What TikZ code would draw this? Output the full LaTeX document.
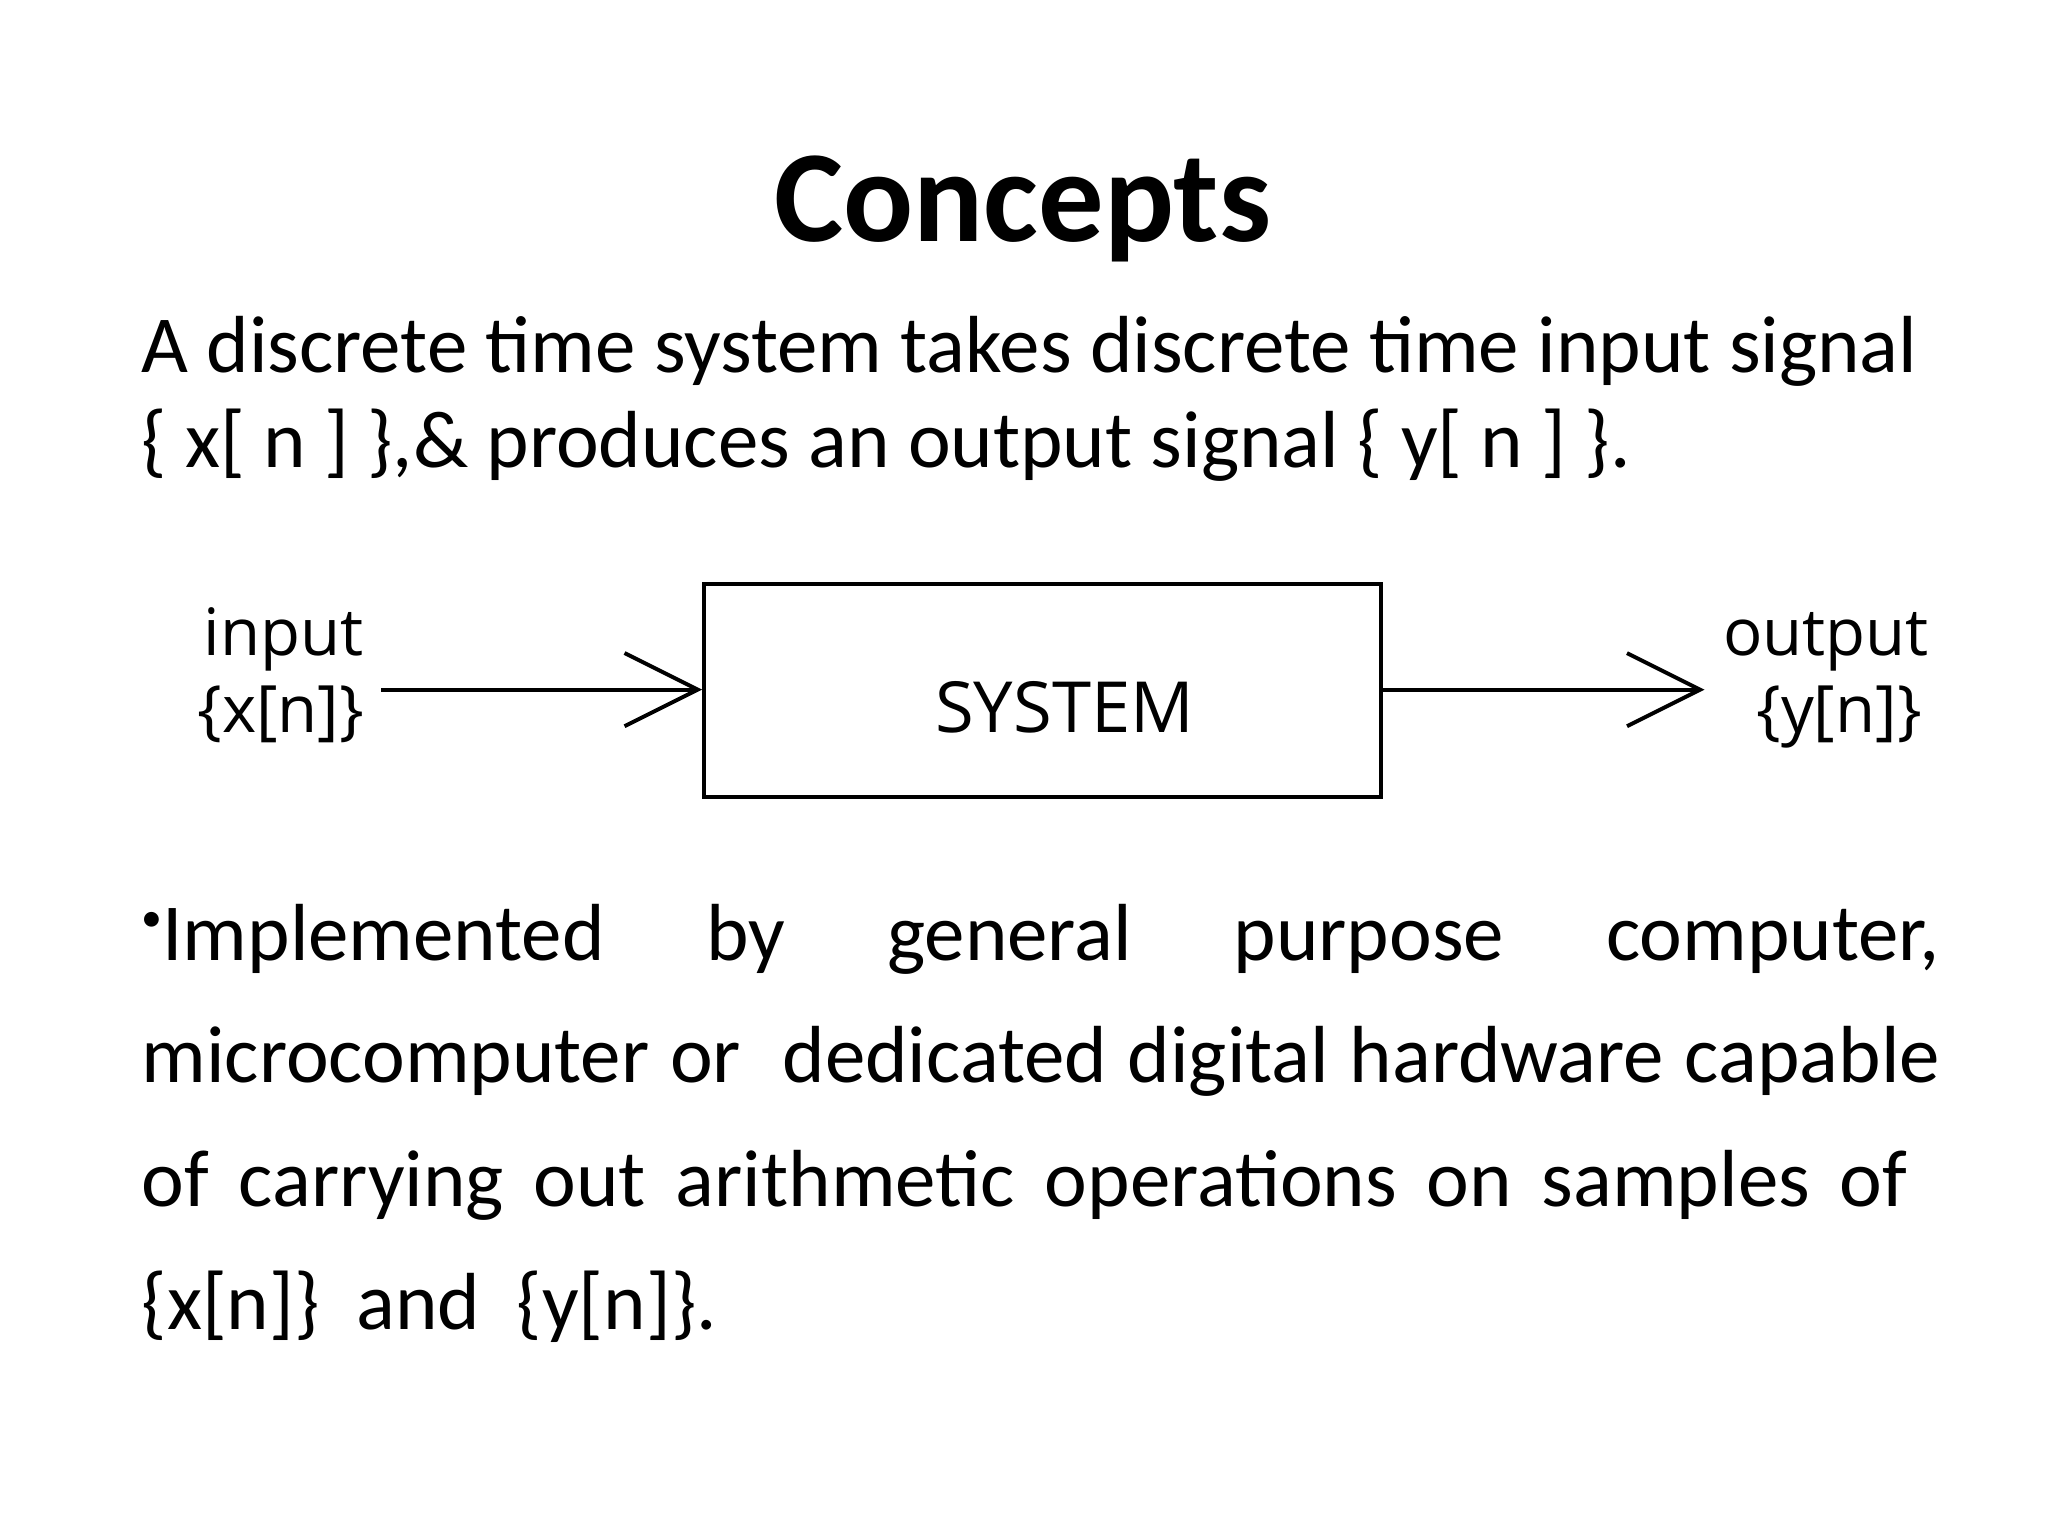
\documentclass[tikz,border=0pt]{standalone}
\usepackage{fontspec}
\setmainfont{Carlito}
\newfontfamily\diagfont{Open Sans}
\usetikzlibrary{arrows.meta}
\begin{document}
\begin{tikzpicture}[x=0.5pt,y=-0.5pt,
  txt/.style={anchor=base west,inner sep=0,font=\fontsize{31}{37}\selectfont},
  lbl/.style={inner sep=0,font=\diagfont\fontsize{25}{30}\selectfont},
  conn/.style={line width=1.5pt,-{Straight Barb[length=28pt,width=28pt,line width=1.5pt]}}]
\useasboundingbox (0,0) rectangle (1568,1176);
\node[inner sep=0,anchor=base,font=\bfseries\fontsize{50}{60}\selectfont] (title) at (783,185) {Concepts};
\node[txt] (p1) at (108,285) {A discrete time system takes discrete time input signal};
\node[txt] (p2) at (108,358) {\{ x[ n ] \},\& produces an output signal \{ y[ n ] \}.};
\node[draw,line width=1.5pt,minimum width=259pt,minimum height=81.5pt,inner sep=0] (sys) at (798,528.5) {};
\node[inner sep=0,anchor=base,font=\diagfont\fontsize{27}{32}\selectfont] (st) at (815,561) {SYSTEM};
\node[lbl,anchor=base] (in1) at (217,502) {input};
\node[lbl,anchor=base] (in2) at (215,561) {\{x[n]\}};
\node[lbl,anchor=base] (out1) at (1398,502) {output};
\node[lbl,anchor=base] (out2) at (1408,561) {\{y[n]\}};
\coordinate (ia) at (292,528);
\coordinate (ob) at (1305,528);
\draw[conn] (ia) -- (sys.west |- ia);
\draw[conn] (sys.east |- ob) -- (ob);
\node[txt] (b1) at (108,735) {\makebox[688.5pt][s]{\raisebox{0.35em}{\fontsize{16}{16}\selectfont\textbullet}Implemented by general purpose computer,}};
\node[txt] (b2) at (108,829) {\makebox[688.5pt][s]{microcomputer or\ \ dedicated digital hardware capable}};
\node[txt] (b3) at (108,924) {\makebox[676pt][s]{of carrying out arithmetic operations on samples of}};
\node[txt] (b4) at (108,1018) {\{x[n]\}\ \ and\ \ \{y[n]\}.};
\end{tikzpicture}
\end{document}
